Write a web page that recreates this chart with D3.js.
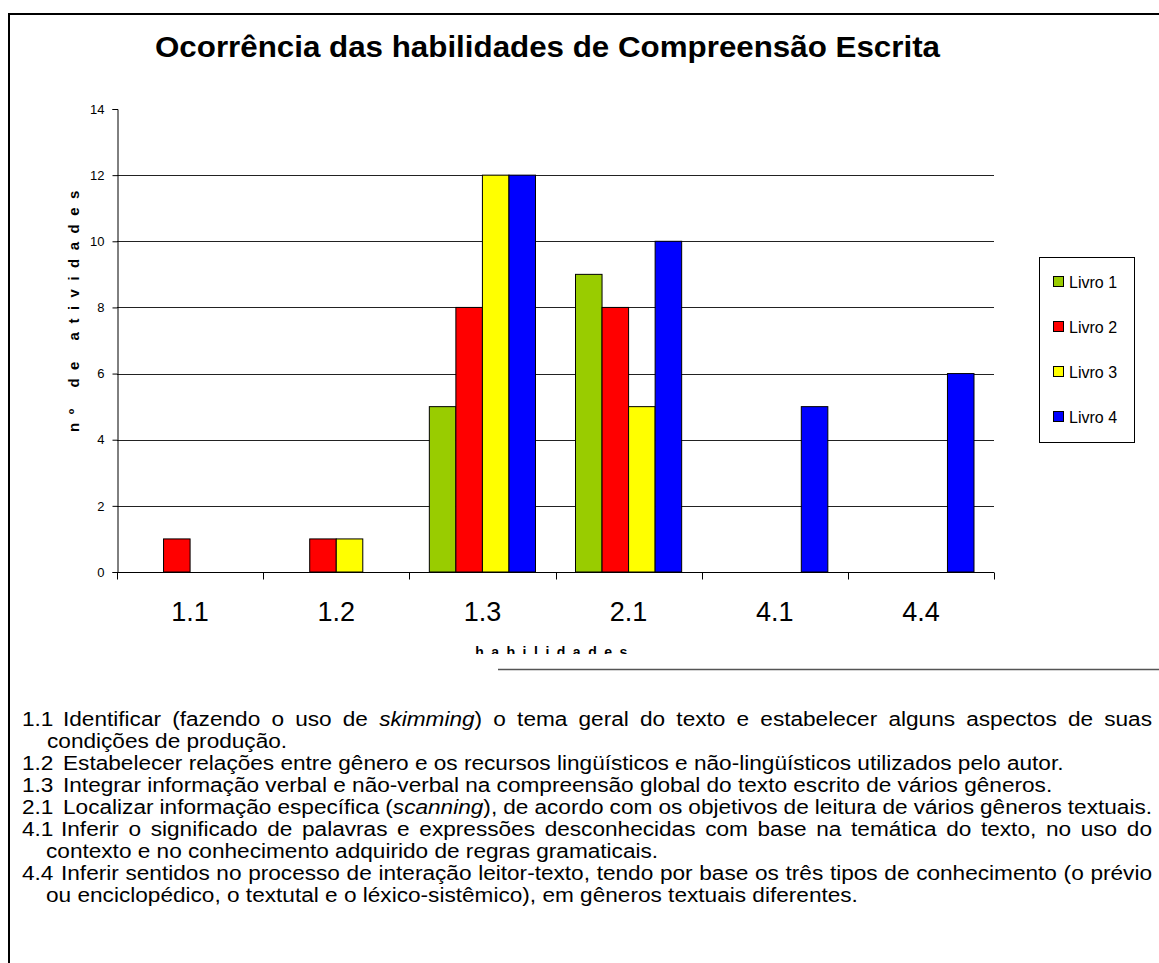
<!DOCTYPE html>
<html>
<head>
<meta charset="utf-8">
<script src="https://cdn.jsdelivr.net/npm/d3@7"></script>
<style>
  body { margin: 0; background: #fff; }
  svg { display: block; font-family: "Liberation Sans", Arial, sans-serif; }
</style>
</head>
<body>
<svg id="chart" width="1159" height="963"></svg>
<script>
// data
let categories = ["1.1", "1.2", "1.3", "2.1", "4.1", "4.4"];
let seriesNames = ["Livro 1", "Livro 2", "Livro 3", "Livro 4"];
let livro1 = [0, 0, 5, 9, 0, 0];
let livro2 = [1, 1, 8, 8, 0, 0];
let livro3 = [0, 1, 12, 5, 0, 0];
let livro4 = [0, 0, 12, 10, 5, 6];
let yTicks = [0, 2, 4, 6, 8, 10, 12, 14];
let colors = ["#99cc00", "#ff0000", "#ffff00", "#0000ff"];

let notes = [
    {num: "1.1", x: 63, parts: [["Identificar (fazendo o uso de ", false], ["skimming", true], [") o tema geral do texto e estabelecer alguns aspectos de suas", false]], justify: true},
    {num: "", x: 47, parts: [["condições de produção.", false]]},
    {num: "1.2", x: 63, parts: [["Estabelecer relações entre gênero e os recursos lingüísticos e não-lingüísticos utilizados pelo autor.", false]]},
    {num: "1.3", x: 63, parts: [["Integrar informação verbal e não-verbal na compreensão global do texto escrito de vários gêneros.", false]]},
    {num: "2.1", x: 63, parts: [["Localizar informação específica (", false], ["scanning", true], ["), de acordo com os objetivos de leitura de vários gêneros textuais.", false]], justify: true},
    {num: "4.1", x: 61, parts: [["Inferir o significado de palavras e expressões desconhecidas com base na temática do texto, no uso do", false]], justify: true},
    {num: "", x: 46, parts: [["contexto e no  conhecimento adquirido de regras gramaticais.", false]]},
    {num: "4.4", x: 61, parts: [["Inferir sentidos no processo de interação leitor-texto, tendo por base os três tipos de conhecimento (o prévio", false]], justify: true},
    {num: "", x: 46, parts: [["ou enciclopédico, o textutal e o léxico-sistêmico), em gêneros textuais diferentes.", false]]},
];

let svg = d3.select("#chart");
let margin = {top: 109, left: 117, right: 994, bottom: 572};

// outer frame
svg.append("path")
    .attr("d", "M9,963 V14 H1159")
    .attr("fill", "none")
    .attr("stroke", "#000")
    .attr("stroke-width", 2);

svg.append("text")
    .attr("x", 155)
    .attr("y", 57)
    .attr("textLength", 785)
    .attr("lengthAdjust", "spacingAndGlyphs")
    .style("font-size", "29px")
    .style("font-weight", "bold")
    .text("Ocorrência das habilidades de Compreensão Escrita");

let x = d3.scaleBand()
    .domain(categories)
    .range([margin.left, margin.right]);
let xInner = d3.scaleBand()
    .domain(seriesNames)
    .range([20, x.bandwidth() - 20]);
let y = d3.scaleLinear()
    .domain([0, 14])
    .range([margin.bottom, margin.top]);

// gridlines
svg.append("g")
    .selectAll("line")
    .data(yTicks.filter(d => d > 0 && d < 14))
    .join("line")
    .attr("x1", margin.left)
    .attr("x2", margin.right)
    .attr("y1", d => Math.round(y(d)) + 0.5)
    .attr("y2", d => Math.round(y(d)) + 0.5)
    .attr("stroke", "#222");

// bars
let allSeries = [livro1, livro2, livro3, livro4];
let barData = [];
allSeries.forEach((s, i) => {
    s.forEach((v, j) => {
        if (v > 0) barData.push({serie: seriesNames[i], cat: categories[j], value: v, color: colors[i]});
    });
});
svg.append("g")
    .selectAll("rect")
    .data(barData)
    .join("rect")
    .attr("x", d => x(d.cat) + xInner(d.serie))
    .attr("y", d => y(d.value))
    .attr("width", xInner.bandwidth())
    .attr("height", d => y(0) - y(d.value))
    .attr("fill", d => d.color)
    .attr("stroke", "#000")
    .attr("stroke-width", 1);

// y axis
let y_axis = g => g
    .attr("transform", `translate(${margin.left + 0.5}, 0)`)
    .call(d3.axisLeft(y).tickValues(yTicks).tickSize(5).tickPadding(8).tickFormat(d3.format("d")))
    .call(g => g.selectAll("text").style("font-size", "13px").attr("fill", "#000"))
    .call(g => g.select(".domain").attr("stroke", "#000"));
svg.append("g").call(y_axis);

// x axis, ticks at category boundaries
let xa = svg.append("g").attr("transform", `translate(0, ${margin.bottom + 0.5})`);
xa.append("line")
    .attr("x1", margin.left)
    .attr("x2", margin.right)
    .attr("stroke", "#000");
let bounds = categories.map(c => x(c)).concat([margin.right]);
xa.selectAll("line.tk")
    .data(bounds)
    .join("line")
    .attr("class", "tk")
    .attr("x1", d => Math.round(d) + 0.5)
    .attr("x2", d => Math.round(d) + 0.5)
    .attr("y1", 0)
    .attr("y2", 7)
    .attr("stroke", "#000");
xa.selectAll("text")
    .data(categories)
    .join("text")
    .attr("x", d => x(d) + x.bandwidth() / 2)
    .attr("y", 48)
    .attr("text-anchor", "middle")
    .style("font-size", "27px")
    .text(d => d);

// axis titles
svg.append("text")
    .attr("transform", "translate(79, 307) rotate(-90)")
    .attr("text-anchor", "middle")
    .style("font-size", "15px")
    .style("font-weight", "bold")
    .style("letter-spacing", "8.5px")
    .text("nº de atividades");

svg.append("clipPath").attr("id", "cut")
    .append("rect").attr("x", 0).attr("y", 0).attr("width", 1159).attr("height", 654);
svg.append("text")
    .attr("clip-path", "url(#cut)")
    .attr("x", 555)
    .attr("y", 657)
    .attr("text-anchor", "middle")
    .style("font-size", "14px")
    .style("font-weight", "bold")
    .style("letter-spacing", "7.5px")
    .text("habilidades");

svg.append("line")
    .attr("x1", 498).attr("x2", 1159)
    .attr("y1", 669.5).attr("y2", 669.5)
    .attr("stroke", "#555")
    .attr("stroke-width", 1.5);

// legend
let lg = svg.append("g");
lg.append("rect")
    .attr("x", 1039.5).attr("y", 257.5)
    .attr("width", 95).attr("height", 185)
    .attr("fill", "#fff")
    .attr("stroke", "#000");
seriesNames.forEach((n, i) => {
    let cy = 282 + i * 45;
    lg.append("rect")
        .attr("x", 1053.5).attr("y", cy - 5.5)
        .attr("width", 10).attr("height", 10)
        .attr("fill", colors[i])
        .attr("stroke", "#000");
    lg.append("text")
        .attr("x", 1069)
        .attr("y", cy)
        .attr("dy", "0.36em")
        .style("font-size", "16px")
        .text(n);
});

// explanation block (text in the scan is a bit stretched sideways)
let sx = 1.16;
let tb = svg.append("g").style("font-size", "19.5px");
notes.forEach((n, i) => {
    let by = 726 + i * 22;
    if (n.num) {
        tb.append("text")
            .attr("transform", `translate(22, ${by}) scale(${sx}, 1)`)
            .text(n.num);
    }
    let t = tb.append("text")
        .attr("transform", `translate(${n.x}, ${by}) scale(${sx}, 1)`);
    n.parts.forEach(p => {
        t.append("tspan")
            .style("font-style", p[1] ? "italic" : "normal")
            .text(p[0]);
    });
    if (n.justify) {
        let w = t.node().getComputedTextLength();
        let full = n.parts.map(p => p[0]).join("");
        let spaces = (full.match(/ /g) || []).length;
        t.style("word-spacing", (((1152 - n.x) / sx - w) / spaces) + "px");
    }
});
</script>
</body>
</html>
